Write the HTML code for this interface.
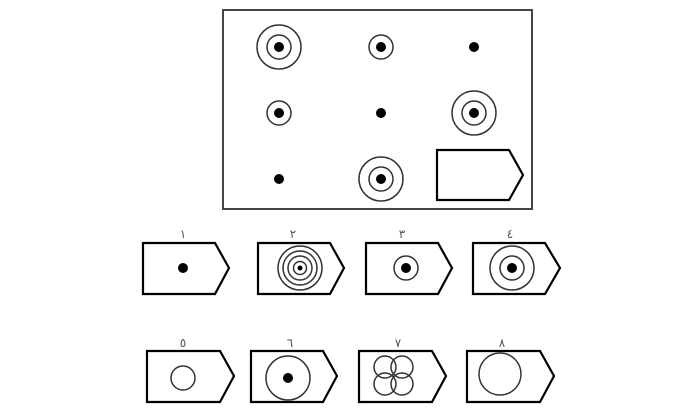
<!DOCTYPE html>
<html><head><meta charset="utf-8"><style>
html,body{margin:0;padding:0;background:#fff;width:700px;height:412px;overflow:hidden}
</style></head><body>
<svg width="700" height="412" viewBox="0 0 700 412" xmlns="http://www.w3.org/2000/svg">
<g fill="none" stroke="#333" stroke-width="1.5">
<rect x="223" y="10" width="309" height="199" stroke="#444" stroke-width="2"/>
<!-- grid -->
<circle cx="279" cy="47" r="22"/><circle cx="279" cy="47" r="12"/>
<circle cx="381" cy="47" r="12"/>
<circle cx="279" cy="113" r="12"/>
<circle cx="474" cy="113" r="22"/><circle cx="474" cy="113" r="12"/>
<circle cx="381" cy="179" r="22"/><circle cx="381" cy="179" r="12"/>
<!-- options -->
<circle cx="300" cy="268" r="22"/><circle cx="300" cy="268" r="17"/><circle cx="300" cy="268" r="12"/><circle cx="300" cy="268" r="6.5"/>
<circle cx="406" cy="268" r="12"/>
<circle cx="512" cy="268" r="22"/><circle cx="512" cy="268" r="12"/>
<circle cx="183" cy="378" r="12"/>
<circle cx="288" cy="378" r="22"/>
<circle cx="385" cy="367" r="11"/><circle cx="402" cy="367" r="11"/><circle cx="385" cy="384" r="11"/><circle cx="402" cy="384" r="11"/>
<circle cx="500" cy="374" r="21"/>
</g>
<g fill="none" stroke="#000" stroke-width="2.2" stroke-linejoin="miter">
<polygon points="437,150 509,150 523,175 509,200 437,200"/>
<polygon points="143,243 215,243 229,268 215,294 143,294"/>
<polygon points="258,243 330,243 344,268 330,294 258,294"/>
<polygon points="366,243 438,243 452,268 438,294 366,294"/>
<polygon points="473,243 545,243 560,268 545,294 473,294"/>
<polygon points="147,351 220,351 234,376 220,402 147,402"/>
<polygon points="251,351 323,351 337,376 323,402 251,402"/>
<polygon points="359,351 432,351 446,376 432,402 359,402"/>
<polygon points="467,351 540,351 554,376 540,402 467,402"/>
</g>
<g fill="#000">
<circle cx="279" cy="47" r="5"/><circle cx="381" cy="47" r="5"/><circle cx="474" cy="47" r="5"/>
<circle cx="279" cy="113" r="5"/><circle cx="381" cy="113" r="5"/><circle cx="474" cy="113" r="5"/>
<circle cx="279" cy="179" r="5"/><circle cx="381" cy="179" r="5"/>
<circle cx="183" cy="268" r="5"/><circle cx="300" cy="268" r="2.5"/><circle cx="406" cy="268" r="5"/><circle cx="512" cy="268" r="5"/>
<circle cx="288" cy="378" r="5"/>
</g>
<g font-family="'DejaVu Sans','Liberation Sans',sans-serif" font-size="12" fill="#555" text-anchor="middle">
<text x="183" y="238">١</text><text x="293" y="238">٢</text><text x="402" y="238">٣</text><text x="510" y="238">٤</text>
<text x="183" y="347">٥</text><text x="290" y="347">٦</text><text x="398" y="347">٧</text><text x="502" y="347">٨</text>
</g>
</svg>
</body></html>
